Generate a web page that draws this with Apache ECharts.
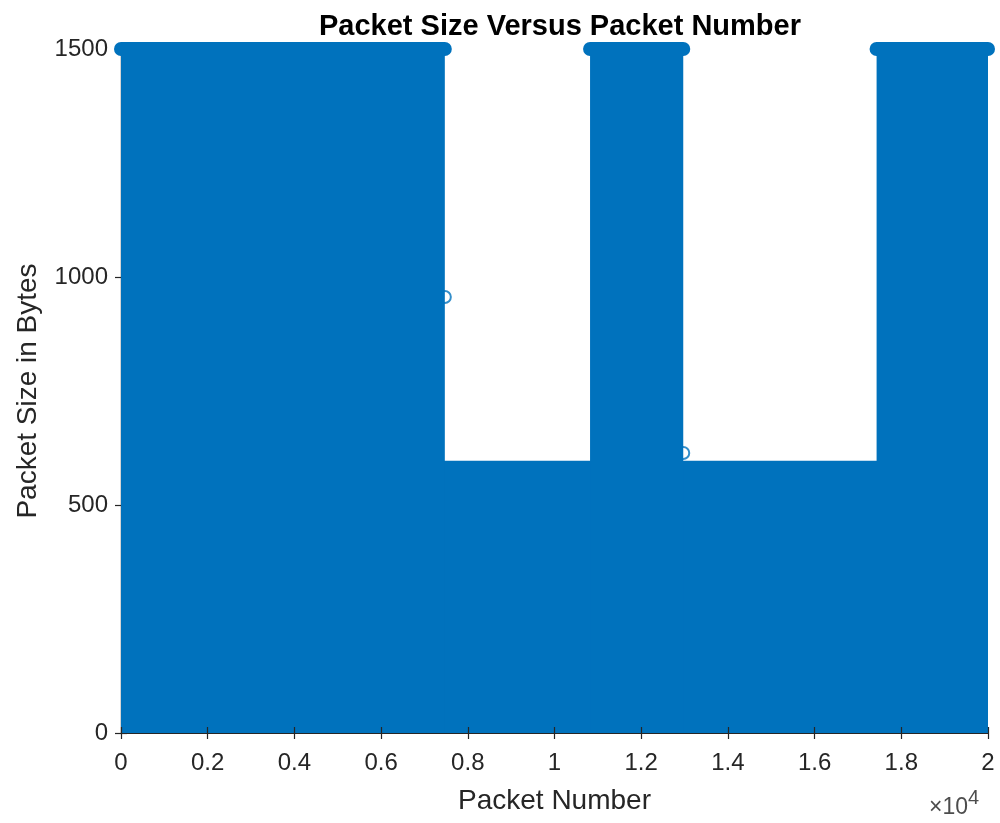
<!DOCTYPE html>
<html><head><meta charset="utf-8">
<script src="https://cdn.jsdelivr.net/npm/echarts@6/dist/echarts.min.js"></script>
<style>html,body{margin:0;padding:0;background:#fff}#c{width:1000px;height:823px}</style>
</head><body><div id="c"></div>
<script>
// Baseline level: every packet run reaches at least this size (bytes) over the whole range
const baseStart = 0;
const baseEnd = 20000;
const baseLevel = 597;
// Runs where packets reach the full 1500-byte size
const fullStart = [0, 10820, 17430];
const fullEnd   = [7470, 12970, 20000];
const fullLevel = 1500;
// isolated visible markers
const loneX = [7470, 12970];
const loneY = [956, 614];
const xTicks = [0, 2000, 4000, 6000, 8000, 10000, 12000, 14000, 16000, 18000, 20000];
const yTicks = [0, 500, 1000, 1500];

const BLUE = '#0072BD';
const AX = '#262626';
const font = 'Liberation Sans, Arial, Helvetica, sans-serif';

const series = [];
series.push({
  type: 'line', data: [[baseStart, baseLevel], [baseEnd, baseLevel]],
  symbol: 'none', lineStyle: { width: 0 },
  areaStyle: { color: BLUE, opacity: 1, origin: 0 }, z: 2, silent: true
});
for (let i = 0; i < fullStart.length; i++) {
  series.push({
    type: 'line', data: [[fullStart[i], fullLevel], [fullEnd[i], fullLevel]],
    symbol: 'none', lineStyle: { width: 0 },
    areaStyle: { color: BLUE, opacity: 1, origin: 0 }, z: 2, silent: true
  });
  series.push({
    type: 'line', data: [[fullStart[i], fullLevel], [fullEnd[i], fullLevel]],
    symbol: 'none', clip: false,
    lineStyle: { width: 14, color: BLUE, cap: 'round' }, z: 3, silent: true
  });
}
series.push({
  type: 'scatter', data: loneX.map((x, i) => [x, loneY[i]]),
  symbol: 'emptyCircle', symbolSize: 12, clip: false,
  itemStyle: { color: BLUE, borderWidth: 1.5 }, z: 1
});

const tickStyle = { lineStyle: { color: AX, width: 1.2 } };
const option = {
  animation: false,
  title: {
    text: 'Packet Size Versus Packet Number', left: 555, top: 7, textAlign: 'center',
    textStyle: { fontFamily: font, fontWeight: 'bold', fontSize: 29, color: '#000' }
  },
  grid: { left: 121, right: 12, top: 49, bottom: 90 },
  xAxis: [{
    type: 'value', min: 0, max: 20000, interval: 2000, z: 10,
    axisLine: { show: true, lineStyle: { color: AX, width: 1.2 } },
    axisTick: { show: true, inside: true, length: 6, ...tickStyle },
    splitLine: { show: false },
    axisLabel: { color: AX, fontSize: 24, fontFamily: font, margin: 18,
      formatter: v => String(+(v / 10000).toFixed(1)) },
    name: 'Packet Number', nameLocation: 'middle', nameGap: 54,
    nameTextStyle: { color: AX, fontSize: 28, fontFamily: font }
  }, {
    type: 'value', position: 'top', min: 0, max: 20000, interval: 2000, z: 10,
    axisLine: { show: true, lineStyle: { color: AX, width: 1.2 } },
    axisTick: { show: true, inside: true, length: 6, ...tickStyle },
    axisLabel: { show: false }, splitLine: { show: false }
  }],
  yAxis: [{
    type: 'value', min: 0, max: 1500, interval: 500, z: 0,
    axisLine: { show: true, lineStyle: { color: AX, width: 1.2 } },
    axisTick: { show: true, inside: true, length: 6, ...tickStyle },
    splitLine: { show: false },
    axisLabel: { color: AX, fontSize: 24, fontFamily: font, margin: 13,
      formatter: v => String(v) },
    name: 'Packet Size in Bytes', nameLocation: 'middle', nameGap: 79,
    nameTextStyle: { color: AX, fontSize: 28, fontFamily: font }
  }, {
    type: 'value', position: 'right', min: 0, max: 1500, interval: 500, z: 0,
    axisLine: { show: true, lineStyle: { color: AX, width: 1.2 } },
    axisTick: { show: true, inside: true, length: 6, ...tickStyle },
    axisLabel: { show: false }, splitLine: { show: false }
  }],
  graphic: [{
    type: 'text', x: 968, y: 819,
    style: { text: '×10', fill: '#4d4d4d', font: '23px ' + font, align: 'right', verticalAlign: 'bottom' }
  }, {
    type: 'text', x: 968, y: 808,
    style: { text: '4', fill: '#4d4d4d', font: '20px ' + font, align: 'left', verticalAlign: 'bottom' }
  }],
  series
};
const chart = echarts.init(document.getElementById('c'));
chart.setOption(option);
</script></body></html>
